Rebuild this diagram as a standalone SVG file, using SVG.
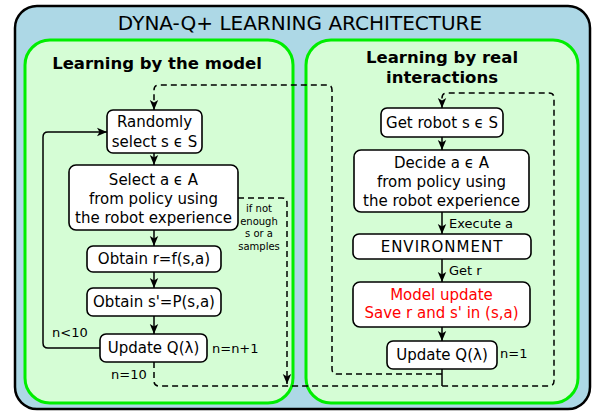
<svg xmlns="http://www.w3.org/2000/svg" width="593" height="411" viewBox="0 0 593 411">
<defs>
<marker id="ah" markerUnits="userSpaceOnUse" markerWidth="10" markerHeight="10" viewBox="0 0 10 10" refX="10" refY="5" orient="auto">
<path d="M0,0.8 L10,5 L0,9.2 L2.5,5 Z" fill="#000"/>
</marker>
<style>
text{font-family:"DejaVu Sans","Liberation Sans",sans-serif;fill:#000}
.node rect{fill:#fff;stroke:#000;stroke-width:1.6}
.nt{font-size:15px;text-anchor:middle}
.red{fill:#ff0000}
.lab{font-size:13px}
.small{font-size:10px;text-anchor:middle}
.sec{fill:#d5fdd5;stroke:#00ee00;stroke-width:3}
.hd{font-size:16.5px;font-weight:bold;text-anchor:middle}
.c{fill:none;stroke:#000;stroke-width:1.5}
.d{stroke-dasharray:6,4}
</style>
</defs>
<rect x="15" y="6" width="575" height="403" rx="22" fill="#add8e6" stroke="#000" stroke-width="2.5"/>
<text x="300" y="30" font-size="20" text-anchor="middle">DYNA-Q+ LEARNING ARCHITECTURE</text>
<g id="model-section">
<rect class="sec" x="25" y="40" width="268" height="363" rx="25"/>
<text class="hd" x="157" y="69">Learning by the model</text>
</g>
<g id="real-section">
<rect class="sec" x="306" y="40" width="272" height="363" rx="25"/>
<text class="hd" x="442" y="63">Learning by real</text>
<text class="hd" x="442" y="83">interactions</text>
</g>
<g id="connectors">
<path class="c" d="M154,153 V165" marker-end="url(#ah)"/>
<path class="c" d="M154,230 V246" marker-end="url(#ah)"/>
<path class="c" d="M154,272 V288" marker-end="url(#ah)"/>
<path class="c" d="M154,316 V334" marker-end="url(#ah)"/>
<path class="c" d="M100,348 H48 Q43,348 43,343 V137 Q43,132 48,132 H107" marker-end="url(#ah)"/>
<path class="c" d="M442,137 V150" marker-end="url(#ah)"/>
<path class="c" d="M442,212 V234" marker-end="url(#ah)"/>
<path class="c" d="M442,259 V282" marker-end="url(#ah)"/>
<path class="c" d="M442,327 V341" marker-end="url(#ah)"/>
<path class="c" d="M442,369 V386"/>
<path class="c d" d="M154,362 V381 Q154,386 159,386 H549 Q554,386 554,381 V98 Q554,93 549,93 H447 Q442,93 442,98 V108" marker-end="url(#ah)"/>
<path class="c d" d="M442,374 H337 Q332,374 332,369 V90 Q332,85 327,85 H159 Q154,85 154,90 V110" marker-end="url(#ah)"/>
<path class="c d" d="M238,198 H282 Q287,198 287,203 V384" marker-end="url(#ah)"/>
<text class="lab" x="52" y="337">n&lt;10</text>
<text class="lab" x="212" y="353">n=n+1</text>
<text class="lab" x="111" y="379">n=10</text>
<text class="small" x="259" y="212">if not</text>
<text class="small" x="259" y="225">enough</text>
<text class="small" x="259" y="237">s or a</text>
<text class="small" x="259" y="250">samples</text>
<text class="lab" x="449" y="228">Execute a</text>
<text class="lab" x="449" y="275">Get r</text>
<text class="lab" x="500" y="358">n=1</text>
</g>
<g id="n-random" class="node">
<rect x="107" y="110" width="95" height="43" rx="6"/>
<text class="nt" x="154.5" y="127">Randomly</text>
<text class="nt" x="154.5" y="147">select s ϵ S</text>
</g>
<g id="n-select" class="node">
<rect x="69" y="165" width="169" height="65" rx="7"/>
<text class="nt" x="153.5" y="185">Select a ϵ A</text>
<text class="nt" x="153.5" y="204">from policy using</text>
<text class="nt" x="153.5" y="223">the robot experience</text>
</g>
<g id="n-obtain-r" class="node">
<rect x="87" y="246" width="134" height="26" rx="6"/>
<text class="nt" x="154" y="264">Obtain r=f(s,a)</text>
</g>
<g id="n-obtain-s" class="node">
<rect x="87" y="288" width="134" height="28" rx="6"/>
<text class="nt" x="154" y="307">Obtain s'=P(s,a)</text>
</g>
<g id="n-update-left" class="node">
<rect x="100" y="334" width="107" height="28" rx="6"/>
<text class="nt" x="153.5" y="353">Update Q(λ)</text>
</g>
<g id="n-get-robot" class="node">
<rect x="381" y="108" width="122" height="29" rx="6"/>
<text class="nt" x="442" y="128">Get robot s ϵ S</text>
</g>
<g id="n-decide" class="node">
<rect x="354" y="150" width="175" height="62" rx="7"/>
<text class="nt" x="441.5" y="168">Decide a ϵ A</text>
<text class="nt" x="441.5" y="187">from policy using</text>
<text class="nt" x="441.5" y="206">the robot experience</text>
</g>
<g id="n-environment" class="node">
<rect x="353" y="234" width="178" height="25" rx="6"/>
<text class="nt" x="442" y="252" letter-spacing="1">ENVIRONMENT</text>
</g>
<g id="n-model-update" class="node">
<rect x="353" y="282" width="177" height="45" rx="7"/>
<text class="nt red" x="441.5" y="300">Model update</text>
<text class="nt red" x="441.5" y="318">Save r and s' in (s,a)</text>
</g>
<g id="n-update-right" class="node">
<rect x="387" y="341" width="110" height="28" rx="6"/>
<text class="nt" x="442" y="360">Update Q(λ)</text>
</g>
</svg>
